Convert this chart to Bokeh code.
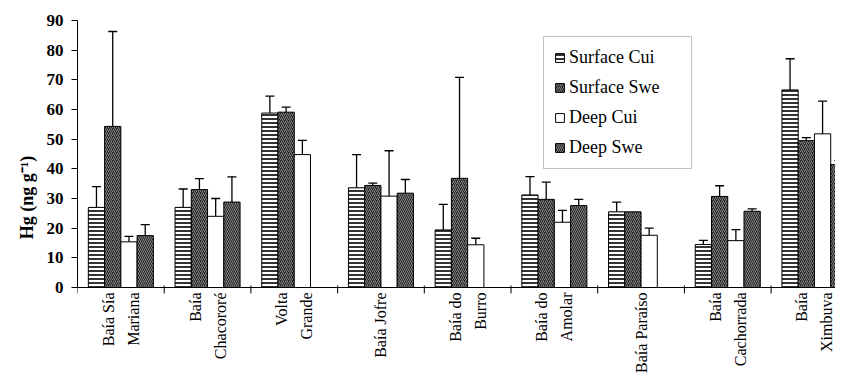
import numpy as np
from bokeh.plotting import figure
from bokeh.models import ColumnDataSource, FixedTicker, Whisker, Legend, LegendItem, Range1d, Span, Title
from bokeh.core.properties import value
from bokeh.embed import file_html
from bokeh.resources import INLINE

nan = float("nan")

categories = ["Baía Sía\nMariana", "Baía\nChacororé", "Volta\nGrande", "Baía Jofre",
              "Baía do\nBurro", "Baía do\nAmolar", "Baía Paraíso", "Baía\nCachorrada", "Baía\nXimbuva"]
series_names = ["Surface Cui", "Surface Swe", "Deep Cui", "Deep Swe"]

surface_cui = [27.0, 27.0, 58.8, 33.6, 19.4, 31.2, 25.5, 14.5, 66.6]
surface_cui_err = [7.0, 6.2, 5.7, 11.2, 8.6, 6.2, 3.3, 1.4, 10.5]
surface_swe = [54.3, 33.0, 59.1, 34.4, 36.8, 29.7, 25.5, 30.7, 49.5]
surface_swe_err = [32.0, 3.7, 1.7, 0.8, 34.0, 5.8, nan, 3.6, 1.0]
deep_cui = [15.4, 24.0, 44.8, 30.8, 14.4, 22.0, 17.6, 15.8, 51.8]
deep_cui_err = [1.8, 6.0, 4.8, 15.3, 2.2, 4.0, 2.4, 3.7, 11.0]
deep_swe = [17.5, 28.8, nan, 31.8, nan, 27.6, nan, 25.7, 41.4]
deep_swe_err = [3.7, 8.5, nan, 4.6, nan, 2.1, nan, 0.8, 1.4]

y_ticks = [0, 10, 20, 30, 40, 50, 60, 70, 80, 90]
y_label = "Hg (ng g\u207b\u00b9)"

FONT = "Liberation Serif"

W, H = 835, 374
LEFT, TOP, ZERO_Y = 77, 20, 287          # pixel layout of the frame
px_per_unit = (ZERO_Y - TOP) / 90.0
y_start = -(H - ZERO_Y) / px_per_unit     # frame runs to the bottom edge; y=0 sits at ZERO_Y

p = figure(width=W, height=H, output_backend="svg", toolbar_location=None,
           x_range=Range1d(0, (W - LEFT) / 86.7), y_range=Range1d(y_start, 90),
           min_border_left=LEFT, min_border_right=0, min_border_top=TOP, min_border_bottom=0)
p.outline_line_color = None
p.xgrid.visible = False
p.ygrid.visible = False
p.xaxis.visible = False

n = len(categories)
idx = np.arange(n) + 0.5
bw = 0.1875
offsets = [-1.5 * bw, -0.5 * bw, 0.5 * bw, 1.5 * bw]
values = [surface_cui, surface_swe, deep_cui, deep_swe]
errors = [surface_cui_err, surface_swe_err, deep_cui_err, deep_swe_err]
styles = [
    dict(fill_color="white", hatch_pattern="horizontal_line", hatch_color="black", hatch_scale=4, hatch_weight=1.6),
    dict(fill_color="#222222", hatch_pattern="right_diagonal_line", hatch_color="#a0a0a0", hatch_scale=4, hatch_weight=0.8),
    dict(fill_color="white"),
    dict(fill_color="#222222", hatch_pattern="left_diagonal_line", hatch_color="#a0a0a0", hatch_scale=4, hatch_weight=0.8),
]

items = []
for name, vals, errs, off, st in zip(series_names, values, errors, offsets, styles):
    v = np.array(vals, dtype=float)
    e = np.array(errs, dtype=float)
    src = ColumnDataSource(dict(x=idx + off, top=v, upper=v + e, lower=v - e))
    r = p.vbar(x="x", top="top", bottom=0, width=bw, source=src, line_color="black", line_width=1, **st)
    items.append(LegendItem(label=name, renderers=[r]))
    w = Whisker(base="x", upper="upper", lower="lower", source=src, line_color="black", line_width=1.3)
    w.upper_head.size = 9
    w.lower_head.size = 9
    w.upper_head.line_width = 1.3
    w.lower_head.line_width = 1.3
    p.add_layout(w)

# category axis: base line at y=0, separator ticks and names
p.add_layout(Span(location=0, dimension="width", line_color="black", line_width=1))
bounds = np.arange(n + 1)
p.segment(x0=bounds, y0=np.full(n + 1, 2 / px_per_unit), x1=bounds, y1=np.full(n + 1, -6 / px_per_unit),
          line_color="black", line_width=1)

lab_x, lab_off, lab_txt = [], [], []
for i, c in enumerate(categories):
    lines = c.split("\n")
    m = len(lines)
    for k, ln in enumerate(lines):
        lab_x.append(idx[i])
        lab_off.append((k - (m - 1) / 2) * 25)
        lab_txt.append(ln)
lab_src = ColumnDataSource(dict(x=lab_x, y=[-5 / px_per_unit] * len(lab_x), xo=lab_off, text=lab_txt))
p.text(x="x", y="y", x_offset="xo", text="text", source=lab_src,
       angle=np.pi / 2, text_align="right", text_baseline="middle",
       text_font=value(FONT), text_font_size="16px", text_color="black")

# y axis
ya = p.yaxis[0]
ya.ticker = FixedTicker(ticks=y_ticks)
ya.bounds = (0, 90)
ya.major_tick_in = 0
ya.major_tick_out = 6
ya.minor_tick_line_color = None
ya.axis_line_color = "black"
ya.major_tick_line_color = "black"
ya.major_label_standoff = 8
ya.major_label_text_font = FONT
ya.major_label_text_font_size = "17px"
ya.major_label_text_font_style = "bold"
ya.major_label_text_color = "black"

# y axis title, centred on the 0..90 span rather than on the whole frame
frame_mid = (TOP + H) / 2
span_mid = (TOP + ZERO_Y) / 2
p.add_layout(Title(text=y_label, align="center", offset=frame_mid - span_mid, standoff=14,
                   text_font=FONT, text_font_size="18px", text_font_style="bold",
                   text_color="black"), "left")

legend = Legend(items=items, location=(466, 118 + (H - ZERO_Y)))
legend.label_text_font = FONT
legend.label_text_font_size = "18px"
legend.label_text_color = "black"
legend.glyph_width = 11
legend.glyph_height = 11
legend.label_standoff = 4
legend.label_height = 20
legend.label_width = 112
legend.spacing = 9
legend.padding = 10
legend.margin = 0
legend.border_line_color = "#888888"
legend.border_line_width = 1
legend.background_fill_color = "white"
p.add_layout(legend)

open("out.html", "w").write(file_html(p, INLINE))
